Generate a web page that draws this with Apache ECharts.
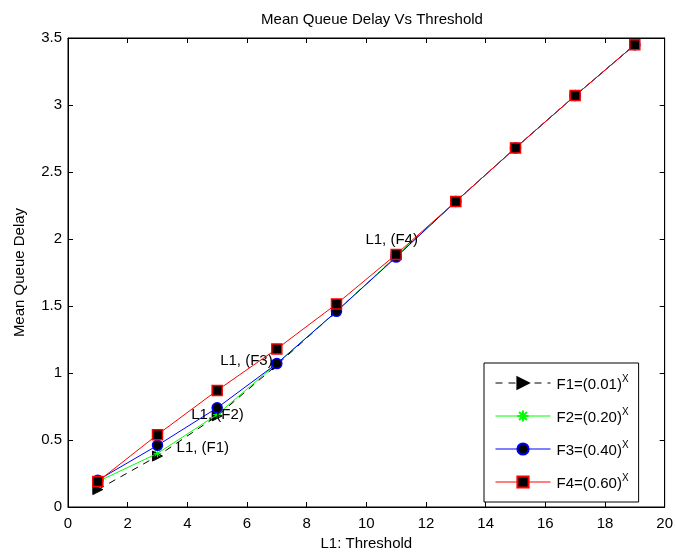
<!DOCTYPE html>
<html>
<head>
<meta charset="utf-8">
<script src="https://cdn.jsdelivr.net/npm/echarts@6/dist/echarts.min.js"></script>
<style>
html,body{margin:0;padding:0;background:#fff;}
#c{width:676px;height:556px;}
</style>
</head>
<body>
<div id="c"></div>
<script>
var thresholds = [1, 3, 5, 7, 9, 11, 13, 15, 17, 19];
var f1Values = [0.13, 0.38, 0.68, 1.06, 1.46, 1.87, 2.28, 2.68, 3.07, 3.45];
var f2Values = [0.19, 0.40, 0.69, 1.07, 1.46, 1.87, 2.28, 2.68, 3.07, 3.45];
var f3Values = [0.20, 0.46, 0.74, 1.07, 1.46, 1.865, 2.28, 2.68, 3.07, 3.45];
var f4Values = [0.19, 0.54, 0.87, 1.18, 1.515, 1.885, 2.28, 2.68, 3.07, 3.45];
var seriesNames = ['F1=(0.01)', 'F2=(0.20)', 'F3=(0.40)', 'F4=(0.60)'];
var annotationText = ['L1, (F1)', 'L1, (F2)', 'L1, (F3)', 'L1, (F4)'];
var annotationX = [3.64, 4.13, 5.1, 9.97];
var annotationY = [0.44, 0.69, 1.09, 1.99];
var xTicks = {min: 0, max: 20, interval: 2};
var yTicks = {min: 0, max: 3.5, interval: 0.5};

var FONT = "'Liberation Sans', Arial, sans-serif";
function pairs(vals) { return thresholds.map(function (x, i) { return [x, vals[i]]; }); }
var asterisk = 'path://M5,0 L5,10 M0,5 L10,5 M1.5,1.5 L8.5,8.5 M1.5,8.5 L8.5,1.5';
var rightTri = 'path://M0,0 L10,5 L0,10 Z';

var chart = echarts.init(document.getElementById('c'), null, {renderer: 'canvas'});
function axisBase() {
  return {
    axisLine: {show: true, onZero: false, lineStyle: {color: '#000', width: 1}},
    axisTick: {show: true, inside: true, length: 5, lineStyle: {color: '#000', width: 1}},
    splitLine: {show: false}
  };
}
chart.setOption({
  animation: false,
  backgroundColor: '#fff',
  textStyle: {fontFamily: FONT},
  title: {
    text: 'Mean Queue Delay Vs Threshold', left: 367, top: 7, textAlign: 'center',
    textStyle: {fontFamily: FONT, fontSize: 15, fontWeight: 'normal', color: '#000'}
  },
  grid: {left: 68, right: 9, top: 38, bottom: 49, show: true, borderColor: '#000', borderWidth: 1, backgroundColor: '#fff'},
  xAxis: [
    Object.assign(axisBase(), {
      type: 'value', min: xTicks.min, max: xTicks.max, interval: xTicks.interval, position: 'bottom',
      name: 'L1: Threshold', nameLocation: 'middle', nameGap: 28,
      nameTextStyle: {fontFamily: FONT, fontSize: 15, color: '#000'},
      axisLabel: {color: '#000', fontSize: 15, fontFamily: FONT, margin: 9}
    }),
    Object.assign(axisBase(), {
      type: 'value', min: xTicks.min, max: xTicks.max, interval: xTicks.interval, position: 'top',
      axisLabel: {show: false}
    })
  ],
  yAxis: [
    Object.assign(axisBase(), {
      type: 'value', min: yTicks.min, max: yTicks.max, interval: yTicks.interval, position: 'left',
      name: 'Mean Queue Delay', nameLocation: 'middle', nameGap: 41,
      nameTextStyle: {fontFamily: FONT, fontSize: 15, color: '#000'},
      axisLabel: {color: '#000', fontSize: 15, fontFamily: FONT, margin: 6}
    }),
    Object.assign(axisBase(), {
      type: 'value', min: yTicks.min, max: yTicks.max, interval: yTicks.interval, position: 'right',
      axisLabel: {show: false}
    })
  ],
  legend: {
    orient: 'vertical', left: 484, top: 363,
    padding: [11, 10, 11, 11], itemGap: 15, itemWidth: 55, itemHeight: 14,
    backgroundColor: '#fff', borderColor: '#000', borderWidth: 1,
    lineStyle: {width: 1},
    data: seriesNames,
    formatter: function (n) { return '{a|' + n + '}{s|X}'; },
    textStyle: {
      fontFamily: FONT, fontSize: 15, color: '#000', padding: [0, 0, 0, 1],
      rich: {
        a: {fontFamily: FONT, fontSize: 15, color: '#000', lineHeight: 18, verticalAlign: 'bottom'},
        s: {fontFamily: FONT, fontSize: 10, color: '#000', lineHeight: 10, verticalAlign: 'top'}
      }
    }
  },
  series: [
    {
      name: seriesNames[0], type: 'line', data: pairs(f1Values),
      symbol: rightTri, symbolSize: 10, showSymbol: true,
      lineStyle: {color: '#000', width: 1, type: [7, 6]},
      itemStyle: {color: '#000', borderColor: '#000', borderWidth: 1},
      z: 2
    },
    {
      name: seriesNames[1], type: 'line', data: pairs(f2Values),
      symbol: asterisk, symbolSize: 8,
      lineStyle: {color: '#00ff00', width: 1},
      itemStyle: {color: 'none', borderColor: '#00ff00', borderWidth: 1},
      z: 3
    },
    {
      name: seriesNames[2], type: 'line', data: pairs(f3Values),
      symbol: 'circle', symbolSize: 10,
      lineStyle: {color: '#0000ff', width: 1},
      itemStyle: {color: '#000', borderColor: '#0000ff', borderWidth: 1.5},
      z: 4
    },
    {
      name: seriesNames[3], type: 'line', data: pairs(f4Values),
      symbol: 'rect', symbolSize: 10,
      lineStyle: {color: '#ff0000', width: 1},
      itemStyle: {color: '#000', borderColor: '#ff0000', borderWidth: 1.5},
      z: 5,
      markPoint: {
        symbol: 'circle', symbolSize: 0, silent: true,
        label: {show: true, position: 'right', distance: 0, color: '#000', fontSize: 15, fontFamily: FONT,
          formatter: function (p) { return p.name; }},
        data: annotationText.map(function (t, i) { return {name: t, coord: [annotationX[i], annotationY[i]]}; })
      }
    }
  ]
});
</script>
</body>
</html>
